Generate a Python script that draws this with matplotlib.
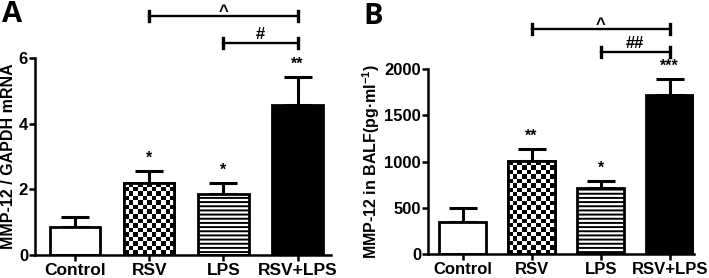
import numpy as np
import matplotlib
matplotlib.use("Agg")
import matplotlib.pyplot as plt

plt.rcParams['font.family'] = ['Liberation Sans', 'DejaVu Sans']
plt.rcParams['font.weight'] = 'bold'
plt.rcParams['mathtext.fontset'] = 'custom'
plt.rcParams['mathtext.bf'] = 'Liberation Sans:bold'
plt.rcParams['mathtext.rm'] = 'Liberation Sans:bold'
plt.rcParams['hatch.linewidth'] = 1.4

categories = ["Control", "RSV", "LPS", "RSV+LPS"]
mrna_values = [0.85, 2.20, 1.87, 4.57]
mrna_errors = [0.30, 0.36, 0.33, 0.86]
mrna_stars = ["", "*", "*", "**"]
balf_values = [350, 1005, 714, 1720]
balf_errors = [150, 130, 75, 170]
balf_stars = ["", "**", "*", "***"]

fig = plt.figure(figsize=(7.09, 2.78), dpi=100)
axA = fig.add_axes([35/709, 23/278, 296/709, 197/278])
axB = fig.add_axes([428/709, 24/278, 266/709, 185/278])


def checker_fill(ax, bar):
    x0, y0 = bar.get_x(), bar.get_y()
    w, h = bar.get_width(), bar.get_height()
    disp = ax.transData.transform([[x0, y0], [x0 + w, y0 + h]])
    pw = abs(disp[1, 0] - disp[0, 0])
    ph = abs(disp[1, 1] - disp[0, 1])
    cell = 4.5
    nx = max(1, int(round(pw / cell)))
    ny = max(1, int(round(ph / cell)))
    pat = (np.add.outer(np.arange(ny), np.arange(nx)) % 2).astype(float)
    im = ax.imshow(pat, cmap='gray', vmin=0, vmax=1, extent=[x0, x0 + w, y0, y0 + h],
                   aspect='auto', interpolation='nearest', zorder=2.1, origin='lower')
    im.set_clip_path(bar)
    ax.bar([x0 + w / 2], [h], width=w, bottom=y0, color='none', edgecolor='black',
           linewidth=bar.get_linewidth(), zorder=2.2)


def panel(ax, values, errors, stars, ylim, yticks, ylabel, xfs):
    x = np.arange(len(categories))
    ax.set_ylim(*ylim)
    bars = ax.bar(x, values, width=0.68, color=['white', 'white', 'white', 'black'],
                  edgecolor='black', linewidth=2.0, zorder=2)
    bars[2].set_hatch('----')
    ax.errorbar(x, values, yerr=[np.zeros(len(values)), errors], fmt='none',
                ecolor='black', elinewidth=2.2, capsize=10, capthick=2.2, zorder=1)
    for xi, v, e, s in zip(x, values, errors, stars):
        if s:
            ax.annotate(s, (xi, v + e), xytext=(0, 9), textcoords='offset points',
                        ha='center', va='center', fontsize=11.5, fontweight='bold')
    ax.set_yticks(yticks)
    ax.set_xticks(x)
    ax.set_xticklabels(categories, fontsize=xfs, fontweight='bold')
    ax.set_ylabel(ylabel, fontsize=11.5, fontweight='bold', labelpad=2)
    for s in ['top', 'right']:
        ax.spines[s].set_visible(False)
    for s in ['left', 'bottom']:
        ax.spines[s].set_linewidth(1.8)
    ax.tick_params(axis='both', width=1.8, length=4)
    ax.tick_params(axis='y', pad=1, labelsize=12)
    ax.tick_params(axis='x', pad=2)
    for lab in ax.get_yticklabels():
        lab.set_fontweight('bold')
    return bars


def bracket(ax, x1, x2, y, label, cap, off):
    ax.plot([x1, x2], [y, y], color='black', lw=1.7, clip_on=False)
    ax.plot([x1, x1], [y - cap, y + cap], color='black', lw=2.4, clip_on=False)
    ax.plot([x2, x2], [y - cap, y + cap], color='black', lw=2.4, clip_on=False)
    ax.annotate(label, ((x1 + x2) / 2, y), xytext=(0, off), textcoords='offset points',
                ha='center', va='baseline', fontsize=12, fontweight='bold',
                annotation_clip=False)


barsA = panel(axA, mrna_values, mrna_errors, mrna_stars, (0, 6), [0, 2, 4, 6],
              "MMP-12 / GAPDH mRNA", 12.5)
axA.set_xlim(-0.54, 3.45)
axA.set_ylim(0, 6)
checker_fill(axA, barsA[1])
axA.set_xlim(-0.54, 3.45)
axA.set_ylim(0, 6)
bracket(axA, 1, 3, 7.28, "^", 0.15, 0)
bracket(axA, 2, 3, 6.46, "#", 0.15, 3)

barsB = panel(axB, balf_values, balf_errors, balf_stars, (0, 2000), [0, 500, 1000, 1500, 2000],
              r"MMP-12 in BALF(pg·ml$^{\mathbf{-1}}$)", 12)
axB.set_xlim(-0.5, 3.35)
axB.set_ylim(0, 2000)
checker_fill(axB, barsB[1])
axB.set_xlim(-0.5, 3.35)
axB.set_ylim(0, 2000)
bracket(axB, 1, 3, 2432, "^", 50, 0)
bracket(axB, 2, 3, 2184, "##", 50, 3)

fig.text(2/709, 1 - 14/278, "A", fontsize=21, fontweight='bold', family=['Open Sans', 'DejaVu Sans'],
         va='center', ha='left')
fig.text(363/709, 1 - 16/278, "B", fontsize=21, fontweight='bold', family=['Open Sans', 'DejaVu Sans'],
         va='center', ha='left')

fig.savefig("out.png", dpi=100)
